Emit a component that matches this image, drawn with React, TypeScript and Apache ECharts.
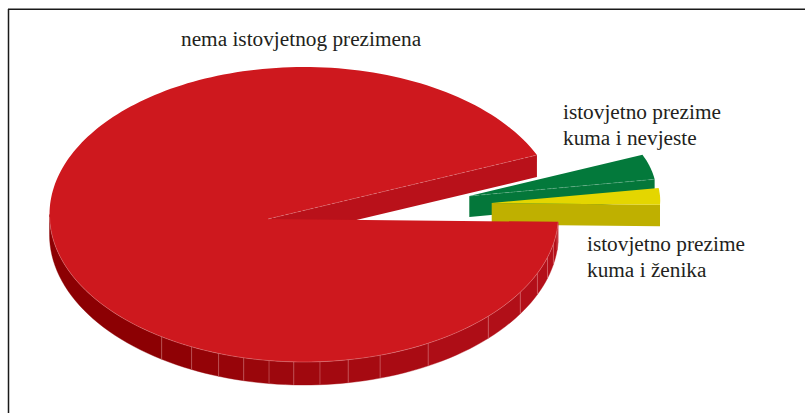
import React, { useEffect, useRef } from "react";
import * as echarts from "echarts";

// data: order follows the clockwise sweep of the pie
const categories = ["istovjetno prezime kuma i nevjeste", "istovjetno prezime kuma i ženika", "nema istovjetnog prezimena"];
const sliceValues = [3.7, 2.7, 93.6];
const startAngle = -22.2;

// styling and layout
const topColors = ["#03793b", "#e4d600", "#ce181e"];
const wallColors = ["#04773a", "#bfb000", "#b9111a"];
const ellipse = { cx: 304, cy: 214.5, rx: 254.5, ry: 147.5 };
const centre = { x: 268, y: 219 };
const sliceApex = [{ x: 469.3, y: 196 }, { x: 491.7, y: 203 }, { x: 268, y: 219 }];
const sliceScale = [0.644, 0.58, 1];
const sliceDepth = [21, 21.5, 22];
const seamAngles = [3, 6, 11.5, 16.9, 23.5, 31.8, 43.6, 60.8, 72.6, 80, 86.4, 92.3, 97.9, 103.7, 109.6, 116.2, 124, 180];
const labels = [
  { lines: ["nema istovjetnog prezimena"], x: 181, y: 28 },
  { lines: ["istovjetno prezime", "kuma i nevjeste"], x: 563, y: 101 },
  { lines: ["istovjetno prezime", "kuma i ženika"], x: 587, y: 233 },
];
const frameColor = "#1a1a1a";

// Maps an angle on the true circle onto the tilted ellipse, whose centre appears shifted.
const project = (deg: number): [number, number] => {
  const q = [Math.cos((deg * Math.PI) / 180), Math.sin((deg * Math.PI) / 180)];
  const a = [(centre.x - ellipse.cx) / ellipse.rx, (centre.y - ellipse.cy) / ellipse.ry];
  const g = 1 / Math.sqrt(1 - a[0] * a[0] - a[1] * a[1]);
  const d = a[0] * q[0] + a[1] * q[1];
  const k = (g / (1 + g)) * d;
  const px = (a[0] + q[0] / g + k * a[0]) / (1 + d);
  const py = (a[1] + q[1] / g + k * a[1]) / (1 + d);
  return [ellipse.cx + ellipse.rx * px, ellipse.cy + ellipse.ry * py];
};

const placed = (deg: number, i: number): [number, number] => {
  const [x, y] = project(deg);
  return [sliceApex[i].x + sliceScale[i] * (x - centre.x), sliceApex[i].y + sliceScale[i] * (y - centre.y)];
};

const rimPoint = (t: number, shift: boolean): [number, number] => {
  const r = (t * Math.PI) / 180;
  const depth = 20 + 3 * Math.sin(r);
  return [ellipse.cx + ellipse.rx * Math.cos(r), ellipse.cy + ellipse.ry * Math.sin(r) + (shift ? depth : 0)];
};

const lerp = (t: number) => {
  const c0 = [0xb5, 0x10, 0x1a];
  const c1 = [0x8c, 0x00, 0x03];
  const f = Math.min(1, Math.pow(t / 125, 2));
  const c = c0.map((v, i) => Math.round(v + (c1[i] - v) * f));
  return `rgb(${c[0]},${c[1]},${c[2]})`;
};

const renderItem = (params: any, api: any) => {
  const i = params.dataIndex;
  const total = sliceValues.reduce((s, v) => s + v, 0);
  const before = sliceValues.slice(0, i).reduce((s, v) => s + v, 0);
  const from = startAngle + (before / total) * 360;
  const to = from + (api.value(0) / total) * 360;
  const apex = sliceApex[i];
  const depth = sliceDepth[i];
  const children: any[] = [];

  const arc: [number, number][] = [];
  const steps = Math.max(4, Math.ceil((to - from) / 1.5));
  for (let s = 0; s <= steps; s++) arc.push(placed(from + ((to - from) * s) / steps, i));
  const wallEnd = arc[arc.length - 1];
  const apexPt: [number, number] = [apex.x, apex.y];

  // straight cut wall
  children.push({
    type: "polygon",
    shape: { points: [apexPt, wallEnd, [wallEnd[0], wallEnd[1] + depth], [apex.x, apex.y + depth]] },
    style: { fill: wallColors[i] },
    silent: true,
  });

  if (i === 2) {
    // outer rim facets
    for (let k = 0; k < seamAngles.length - 1; k++) {
      const a = seamAngles[k];
      const b = seamAngles[k + 1];
      const top: [number, number][] = [];
      const bottom: [number, number][] = [];
      const n = Math.max(2, Math.ceil((b - a) / 2));
      for (let s = 0; s <= n; s++) {
        const t = a + ((b - a) * s) / n;
        top.push(rimPoint(t, false));
        bottom.unshift(rimPoint(t, true));
      }
      children.push({
        type: "polygon",
        shape: { points: [...top, ...bottom] },
        style: { fill: lerp((a + b) / 2), stroke: lerp((a + b) / 2), lineWidth: 0.4 },
        silent: true,
      });
      if (k > 0) {
        children.push({
          type: "line",
          shape: { x1: top[0][0], y1: top[0][1], x2: top[0][0], y2: bottom[bottom.length - 1][1] },
          style: { stroke: "rgba(255,205,205,0.45)", lineWidth: 0.7 },
          silent: true,
        });
      }
    }
  }

  children.push({
    type: "polygon",
    shape: { points: [apexPt, ...arc] },
    style: { fill: topColors[i] },
    silent: true,
  });

  // thin light edge between faces
  if (i !== 1) {
    children.push({
      type: "line",
      shape: { x1: apex.x, y1: apex.y, x2: wallEnd[0], y2: wallEnd[1] },
      style: { stroke: "rgba(255,255,255,0.3)", lineWidth: 0.6, lineDash: [4, 2] },
      silent: true,
    });
  }
  if (i === 2) {
    const rim: [number, number][] = [];
    for (let t = 3; t <= 180; t += 2) rim.push(rimPoint(t, false));
    children.push({
      type: "polyline",
      shape: { points: rim },
      style: { fill: "none", stroke: "rgba(255,210,210,0.4)", lineWidth: 0.7 },
      silent: true,
    });
  }
  return { type: "group", children };
};

export default function App() {
  const ref = useRef<HTMLDivElement>(null);
  useEffect(() => {
    document.body.style.margin = "0";
    document.body.style.background = "#fff";
    const chart = echarts.init(ref.current!, null, { renderer: "svg" });
    chart.setOption({
      animation: false,
      backgroundColor: "#fff",
      series: [
        {
          type: "custom",
          coordinateSystem: "none",
          name: "prezimena",
          data: sliceValues.map((v, i) => ({ name: categories[i], value: [v] })),
          renderItem,
          silent: true,
        },
      ],
      graphic: [
        {
          type: "line",
          silent: true,
          shape: { x1: 8, y1: 9.25, x2: 805, y2: 9.25 },
          style: { stroke: frameColor, lineWidth: 1.5 },
        },
        {
          type: "line",
          silent: true,
          shape: { x1: 8.5, y1: 9, x2: 8.5, y2: 413 },
          style: { stroke: frameColor, lineWidth: 1.5 },
        },
        ...labels.flatMap((l) =>
          l.lines.map((line, k) => ({
            type: "text",
            silent: true,
            x: l.x,
            y: l.y + k * 26.5,
            style: {
              text: line,
              fill: "#231f20",
              font: '21.3px "Liberation Serif", serif',
              textAlign: "left",
              textVerticalAlign: "top",
            },
          }))
        ),
      ],
    });
    return () => chart.dispose();
  }, []);
  return <div ref={ref} style={{ position: "absolute", left: 0, top: 0, width: 805, height: 413 }} />;
}
